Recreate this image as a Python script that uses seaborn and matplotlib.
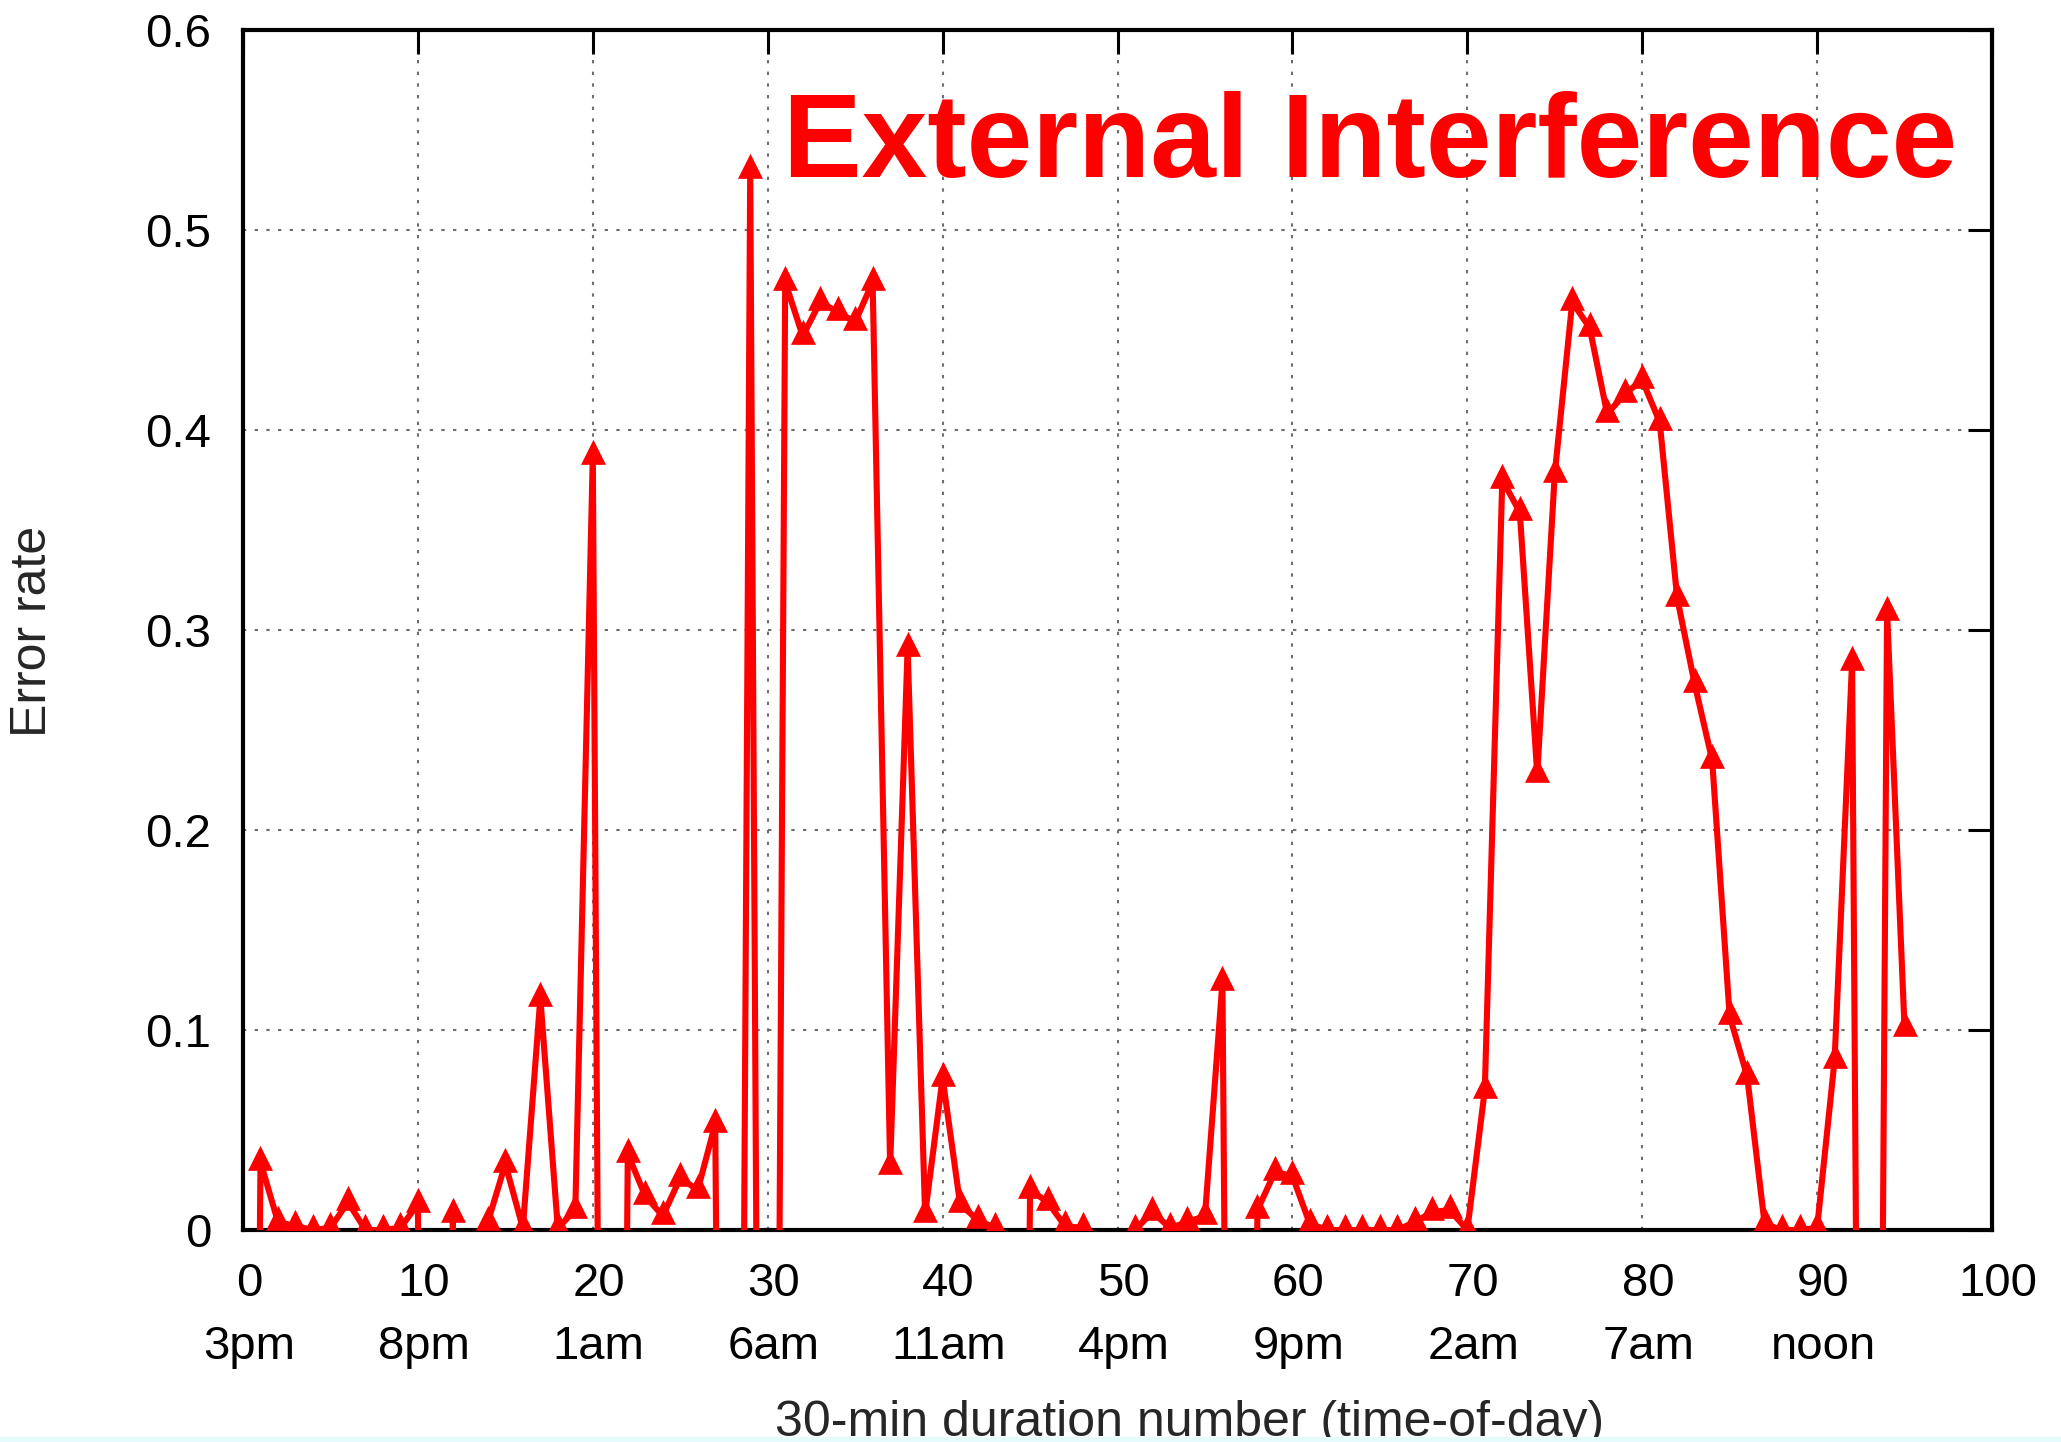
import pandas as pd
import seaborn as sns
import matplotlib.pyplot as plt
import matplotlib.transforms as mtransforms
from matplotlib.path import Path
from matplotlib.patches import Rectangle

# error rate per 30-min slot, -1 = no measurement in that slot (gnuplot style gaps)
slot = list(range(96))
err_rate = [
    -1, 0.034, 0.004, 0.002, 0.0, 0.001, 0.014, 0.0, 0.0, 0.001,
    0.013, -1, 0.008, -1, 0.004, 0.033, 0.001, 0.116, 0.001, 0.010,
    0.387, -1, 0.038, 0.017, 0.007, 0.026, 0.020, 0.053, -1, 0.530,
    -1, 0.474, 0.447, 0.464, 0.459, 0.454, 0.474, 0.032, 0.291, 0.008,
    0.076, 0.013, 0.005, 0.001, -1, 0.020, 0.014, 0.002, 0.001, -1,
    -1, 0.0, 0.009, 0.001, 0.004, 0.007, 0.124, -1, 0.010, 0.029,
    0.027, 0.003, 0.0, 0.0, 0.0, 0.0, 0.0, 0.004, 0.009, 0.010,
    0.0, 0.070, 0.375, 0.359, 0.228, 0.378, 0.464, 0.451, 0.408, 0.418,
    0.425, 0.404, 0.316, 0.273, 0.235, 0.107, 0.077, 0.003, 0.0, 0.0,
    0.001, 0.085, 0.284, -1, 0.309, 0.101,
]

xtick_pos = [0, 10, 20, 30, 40, 50, 60, 70, 80, 90, 100]
xtick_num = ['0', '10', '20', '30', '40', '50', '60', '70', '80', '90', '100']
xtick_time = ['3pm', '8pm', '1am', '6am', '11am', '4pm', '9pm', '2am', '7am', 'noon', '']
ytick_pos = [0, 0.1, 0.2, 0.3, 0.4, 0.5, 0.6]
ytick_lab = ['0', '0.1', '0.2', '0.3', '0.4', '0.5', '0.6']

sns.set_theme(style='white')
plt.rcParams['font.family'] = ['Liberation Sans', 'DejaVu Sans']

W, H = 2061, 1442
fig = plt.figure(figsize=(W / 100, H / 100), dpi=100)
ax = fig.add_axes([243 / W, 1 - 1230 / H, (1992 - 243) / W, 1200 / H])

df = pd.DataFrame({'slot': slot, 'err': err_rate})

# up triangle with the point at the centroid, like gnuplot's pt 9
tri = Path([(0, 4 / 3), (-1, -2 / 3), (1, -2 / 3), (0, 4 / 3)],
           [Path.MOVETO, Path.LINETO, Path.LINETO, Path.CLOSEPOLY])

sns.lineplot(data=df, x='slot', y='err', ax=ax, color='#ff0000', lw=4.4,
             marker=tri, markersize=24, markeredgecolor='#ff0000',
             markeredgewidth=0, estimator=None, sort=False, zorder=5)

ax.set_xlim(0, 100)
ax.set_ylim(0, 0.6)
ax.set_xticks(xtick_pos)
ax.set_xticklabels([n + '\n' + t if t else n for n, t in zip(xtick_num, xtick_time)])
ax.set_yticks(ytick_pos)
ax.set_yticklabels(ytick_lab)
ax.set_xlabel('')
ax.set_ylabel('')

ax.set_axisbelow(True)
ax.grid(True, color='#6f6f6f', lw=1.5, linestyle=(0, (1.6, 4.0)))
for s in ax.spines.values():
    s.set_visible(True)
    s.set_color('black')
    s.set_linewidth(3)

ax.tick_params(direction='in', length=17, width=2.2, top=True, right=True,
               labelsize=34, color='black', labelcolor='black')
ax.tick_params(axis='x', pad=23)
ax.tick_params(axis='y', pad=23)

shift = mtransforms.ScaledTranslation(6 / 100, 0, fig.dpi_scale_trans)
for lab in ax.get_xticklabels():
    lab.set_linespacing(1.55)
    lab.set_transform(lab.get_transform() + shift)

ax.text(0.98, 0.8775, 'External Interference', transform=ax.transAxes,
        ha='right', va='baseline', color='#ff0000', fontsize=85, fontweight='bold')

fig.text(33 / W, 1 - 631 / H, 'Error rate', rotation=90, ha='center', va='center', fontsize=36)
fig.text(1190 / W, 1 - 1436 / H, '30-min duration number (time-of-day)',
         ha='center', va='baseline', fontsize=36)

fig.add_artist(Rectangle((0, 0), 1, 5 / H, transform=fig.transFigure,
                         facecolor='#e6fcfc', edgecolor='none', zorder=10))

fig.savefig('out.png', dpi=100)
